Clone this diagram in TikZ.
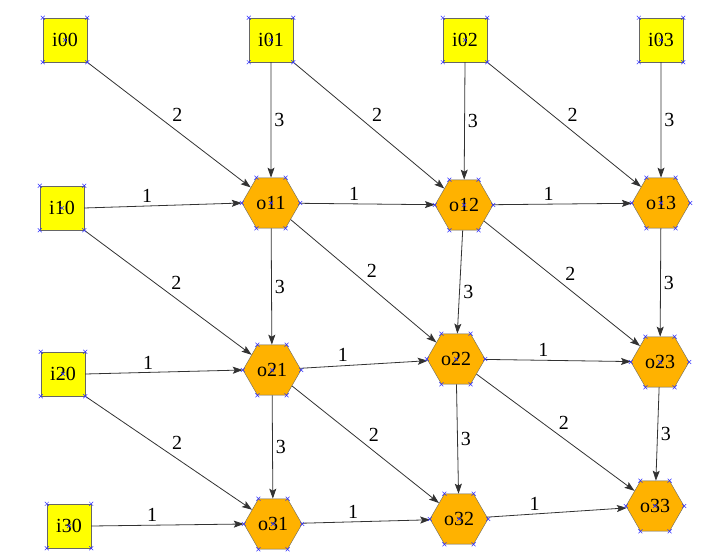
\documentclass[tikz,border=0pt]{standalone}
\usepackage{fontspec}
\setmainfont{Liberation Serif}
\usepackage{xcolor}
\usetikzlibrary{arrows.meta, shapes.geometric, shapes.misc}

\definecolor{inyellow}{RGB}{255,255,0}
\definecolor{outorange}{RGB}{255,178,0}
\definecolor{edgegray}{RGB}{50,50,50}

\begin{document}
\begin{tikzpicture}[
  x=1pt, y=-1pt,
  inbox/.style={draw=black!60, fill=inyellow, minimum size=44pt, inner sep=0pt,
                font=\fontsize{20}{22}\selectfont},
  outhex/.style={draw=black!60, fill=outorange, regular polygon, regular polygon sides=6,
                 minimum size=58pt, inner sep=0pt, font=\fontsize{20}{22}\selectfont},
  xmark/.style={cross out, draw=blue!80, minimum size=3.5pt, inner sep=0pt, line width=0.5pt},
  arr/.style={-{Stealth[length=10pt, width=7pt, inset=2pt]}, draw=edgegray, line width=0.8pt},
  wt/.style={auto, inner sep=3pt, font=\fontsize{20}{22}\selectfont},
  hwt/.style={wt, pos=0.4}
]
\useasboundingbox (0,0) rectangle (722,556);

% input nodes
\node[inbox] (i00) at (65,40) {i00};
\node[inbox] (i01) at (271,40) {i01};
\node[inbox] (i02) at (465,40) {i02};
\node[inbox] (i03) at (661,40) {i03};
\node[inbox] (i10) at (62,208) {i10};
\node[inbox] (i20) at (63,374) {i20};
\node[inbox] (i30) at (69,526) {i30};

% output nodes
\node[outhex] (o11) at (271,203) {o11};
\node[outhex] (o12) at (464,205) {o12};
\node[outhex] (o13) at (661,203) {o13};
\node[outhex] (o21) at (272,370) {o21};
\node[outhex] (o22) at (456,359) {o22};
\node[outhex] (o23) at (660,362) {o23};
\node[outhex] (o31) at (273,524) {o31};
\node[outhex] (o32) at (459,519) {o32};
\node[outhex] (o33) at (655,506) {o33};

% edges from the inputs
\draw[arr] (i00.south east) -- node[wt] {2} (o11);
\draw[arr] (i01.south) -- node[wt] {3} (o11);
\draw[arr] (i01.south east) -- node[wt] {2} (o12);
\draw[arr] (i02.south) -- node[wt] {3} (o12);
\draw[arr] (i02.south east) -- node[wt] {2} (o13);
\draw[arr] (i03.south) -- node[wt] {3} (o13);
\draw[arr] (i10.east) -- node[hwt] {1} (o11.west);
\draw[arr] (i10.south east) -- node[wt] {2} (o21);
\draw[arr] (i20.east) -- node[hwt] {1} (o21.west);
\draw[arr] (i20.south east) -- node[wt] {2} (o31);
\draw[arr] (i30.east) -- node[hwt] {1} (o31.west);

% edges between the outputs
\draw[arr] (o11) -- node[hwt] {1} (o12);
\draw[arr] (o12) -- node[hwt] {1} (o13);
\draw[arr] (o11) -- node[wt] {3} (o21);
\draw[arr] (o11) -- node[wt] {2} (o22);
\draw[arr] (o12) -- node[wt] {3} (o22);
\draw[arr] (o12) -- node[wt] {2} (o23);
\draw[arr] (o13) -- node[wt] {3} (o23);
\draw[arr] (o21) -- node[hwt] {1} (o22);
\draw[arr] (o22) -- node[hwt] {1} (o23);
\draw[arr] (o21) -- node[wt] {3} (o31);
\draw[arr] (o21) -- node[wt] {2} (o32);
\draw[arr] (o22) -- node[wt] {3} (o32);
\draw[arr] (o22) -- node[wt] {2} (o33);
\draw[arr] (o23) -- node[wt] {3} (o33);
\draw[arr] (o31) -- node[hwt] {1} (o32);
\draw[arr] (o32) -- node[hwt] {1} (o33);

% selection marks
\foreach \n in {i00,i01,i02,i03,i10,i20,i30}
  \foreach \a in {north west,north east,south west,south east,center}
    \node[xmark] at (\n.\a) {};
\foreach \n in {o11,o12,o13,o21,o22,o23,o31,o32,o33}
  \foreach \a in {corner 1,corner 2,corner 3,corner 4,corner 5,corner 6,center}
    \node[xmark] at (\n.\a) {};
\end{tikzpicture}
\end{document}
